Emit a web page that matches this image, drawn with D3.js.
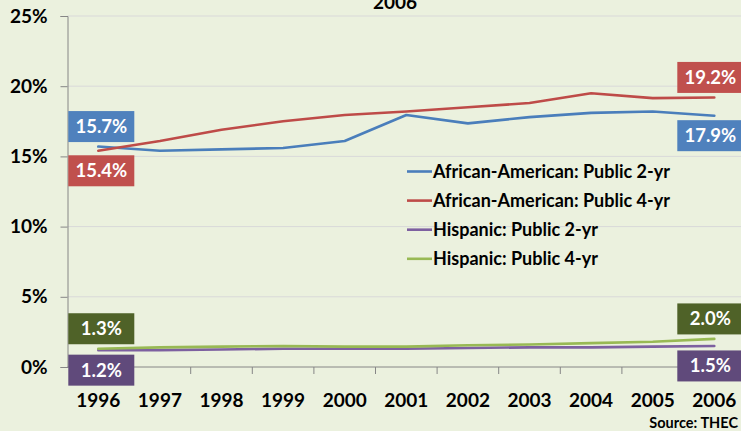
<!DOCTYPE html>
<html lang="en">
<head>
  <meta charset="UTF-8">
  <title>Enrollment share 1996-2006</title>
  <script src="https://d3js.org/d3.v7.min.js"></script>
  <style>
    html, body {
      margin: 0;
      padding: 0;
      background: #ebf1de;
    }
    text {
      font-family: Lato, "Open Sans", sans-serif;
      font-weight: bold;
    }
    .grid line {
      stroke: #d9d9d9;
      stroke-width: 1px;
    }
    .line {
      fill: none;
      stroke-width: 2.6px;
      stroke-linejoin: round;
      stroke-linecap: round;
    }
  </style>
</head>
<body>
  <div id="container"></div>
  <script>
    // data
    const years = ['1996','1997','1998','1999','2000','2001','2002','2003','2004','2005','2006']
    const aaPublic2 = [15.7, 15.4, 15.5, 15.6, 16.1, 17.95, 17.35, 17.8, 18.1, 18.2, 17.9]
    const aaPublic4 = [15.4, 16.1, 16.9, 17.5, 17.95, 18.2, 18.5, 18.8, 19.5, 19.15, 19.2]
    const hispPublic2 = [1.2, 1.2, 1.25, 1.3, 1.3, 1.3, 1.35, 1.4, 1.4, 1.45, 1.5]
    const hispPublic4 = [1.3, 1.4, 1.45, 1.5, 1.45, 1.45, 1.55, 1.6, 1.7, 1.8, 2.0]
    const seriesNames = ['African-American: Public 2-yr', 'African-American: Public 4-yr', 'Hispanic: Public 2-yr', 'Hispanic: Public 4-yr']
    const yTicks = [0, 5, 10, 15, 20, 25]

    const width = 741
    const height = 431
    const margin = {top: 16, left: 67.5, bottom: 64}

    const series = [
      {name: seriesNames[0], values: aaPublic2, color: '#4a7ebb', box: '#4f81bd', first: -1, last: 1},
      {name: seriesNames[1], values: aaPublic4, color: '#be4b48', box: '#c0504d', first: 1, last: -1},
      {name: seriesNames[2], values: hispPublic2, color: '#7d60a0', box: '#604a7b', first: 1, last: 1},
      {name: seriesNames[3], values: hispPublic4, color: '#98b954', box: '#4f6228', first: -1, last: -1}
    ]

    const svg = d3.select('#container').append('svg')
      .attr('width', width).attr('height', height)

    const xScale = d3.scaleBand().domain(years).range([margin.left, margin.left + 11 * 61.6])
    const yScale = d3.scaleLinear().domain([0, 25]).range([height - margin.bottom, margin.top])
    const cx = y => xScale(y) + xScale.bandwidth() / 2

    // gridlines
    svg.append('g').attr('class', 'grid')
      .selectAll('line').data(yTicks.filter(d => d > 0)).enter().append('line')
      .attr('x1', margin.left).attr('x2', width)
      .attr('y1', d => yScale(d)).attr('y2', d => yScale(d))

    // y axis
    const yAxis = d3.axisLeft(yScale).tickValues(yTicks).tickSize(7).tickPadding(13).tickFormat(d => d + '%')
    const yg = svg.append('g').attr('transform', `translate(${margin.left},0)`).call(yAxis)
    yg.select('.domain').attr('stroke', '#868686')
    yg.selectAll('.tick line').attr('stroke', '#868686')
    yg.selectAll('.tick text').attr('font-size', 19).attr('fill', '#000')

    // x axis, ticks sit between categories
    const xAxis = d3.axisBottom(xScale).tickSize(0).tickPadding(27)
    const xg = svg.append('g').attr('transform', `translate(0,${yScale(0)})`).call(xAxis)
    xg.select('.domain').attr('stroke', '#868686').attr('d', `M${margin.left},0H${width}`)
    xg.selectAll('.tick text').attr('font-size', 19).attr('fill', '#000')
    xg.selectAll('.sep').data(years.slice(1)).enter().append('line')
      .attr('x1', d => xScale(d)).attr('x2', d => xScale(d))
      .attr('y1', 0).attr('y2', 7).attr('stroke', '#868686')

    // lines
    const line = d3.line().x((d, i) => cx(years[i])).y(d => yScale(d))
    svg.selectAll('.line').data(series).enter().append('path')
      .attr('class', 'line')
      .attr('d', d => line(d.values))
      .style('stroke', d => d.color)

    // end labels
    const boxW = 66, boxH = 31
    const labels = []
    series.forEach(s => {
      labels.push({s: s, i: 0, dx: 3, dir: s.first})
      labels.push({s: s, i: years.length - 1, dx: -4, dir: s.last})
    })
    const lab = svg.selectAll('.lab').data(labels).enter().append('g')
      .attr('transform', d => {
        const x = cx(years[d.i]) + d.dx
        const y = yScale(d.s.values[d.i]) + d.dir * 20
        return `translate(${x},${y})`
      })
    lab.append('rect')
      .attr('x', -boxW / 2).attr('y', -boxH / 2).attr('width', boxW).attr('height', boxH)
      .attr('fill', d => d.s.box)
    lab.append('text')
      .attr('text-anchor', 'middle').attr('dy', '0.35em')
      .attr('font-size', 18.5).attr('fill', '#fff')
      .text(d => d.s.values[d.i].toFixed(1) + '%')

    // legend
    const legend = svg.selectAll('.legend').data(series).enter().append('g')
      .attr('transform', (d, i) => `translate(407,${171.5 + i * 29.1})`)
    legend.append('line').attr('x1', 0).attr('x2', 25).attr('stroke', d => d.color).attr('stroke-width', 2.6)
    legend.append('text').attr('x', 26).attr('dy', '0.35em').attr('font-size', 18)
      .text(d => d.name)

    // title, mostly cut off at the top
    svg.append('text').attr('x', 395).attr('y', 9).attr('text-anchor', 'middle')
      .attr('font-size', 19).text('2006')

    svg.append('text').attr('x', 738).attr('y', 428).attr('text-anchor', 'end')
      .attr('font-size', 14.5).text('Source: THEC')
  </script>
</body>
</html>
